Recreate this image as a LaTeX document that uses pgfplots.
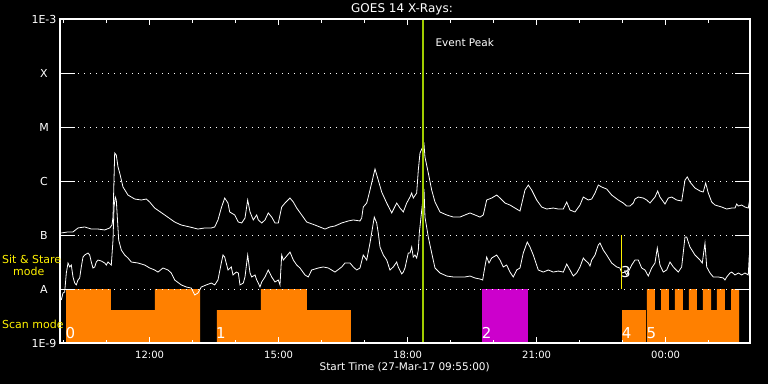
\documentclass[border=0pt]{standalone}
\usepackage{pgfplots}
\pgfplotsset{compat=1.18}
\usepackage{fontspec}
\setmainfont{DejaVu Sans}
\definecolor{scanorange}{RGB}{255,128,0}
\definecolor{stmag}{RGB}{204,0,204}
\definecolor{evgreen}{RGB}{160,204,0}
\begin{document}
\begin{tikzpicture}
\fill[black] (0,0) rectangle (768pt,384pt);
\begin{axis}[
  at={(60pt,41pt)}, anchor=south west,
  scale only axis, width=690pt, height=324pt,
  xmin=0, xmax=16.047, ymode=log, ymin=1e-9, ymax=1e-3,
  axis on top,
  axis line style={white, line width=1.2pt},
  tick style={white, line width=1pt},
  major tick length=6pt, minor tick length=3.5pt,
  xtick={2.0833,5.0833,8.0833,11.0833,14.0833},
  xticklabels={12:00,15:00,18:00,21:00,00:00},
  minor xtick={0.0833,1.0833,3.0833,4.0833,6.0833,7.0833,9.0833,10.0833,12.0833,13.0833,15.0833},
  ytick={1e-9,1e-8,1e-7,1e-6,1e-5,1e-4,1e-3},
  yticklabels={1E-9,A,B,C,M,X,1E-3},
  yminorticks=false,
  ytick style={/pgfplots/major tick length=15pt},
  ymajorgrids,
  major grid style={white, line width=0.9pt, dash pattern=on 0.9pt off 5.1pt},
  tick label style={white, font=\fontsize{10}{12}\selectfont},
  x tick label style={anchor=center, yshift=-12pt},
  y tick label style={anchor=center, xshift=-16pt, font=\fontsize{11}{12}\selectfont},
]
% scan / sit-and-stare mode bars
\addplot[fill=scanorange, draw=none] coordinates {(0.140,1e-9) (0.140,1e-8) (1.186,1e-8) (1.186,4.08e-9) (2.209,4.08e-9) (2.209,1e-8) (3.256,1e-8) (3.256,1e-9)};
\addplot[fill=scanorange, draw=none] coordinates {(3.651,1e-9) (3.651,4.08e-9) (4.674,4.08e-9) (4.674,1e-8) (5.744,1e-8) (5.744,4.08e-9) (6.767,4.08e-9) (6.767,1e-9)};
\addplot[fill=stmag, draw=none] coordinates {(9.814,1e-9) (9.814,1e-8) (10.884,1e-8) (10.884,1e-9)};
\addplot[fill=scanorange, draw=none] coordinates {(13.070,1e-9) (13.070,4.08e-9) (13.628,4.08e-9) (13.628,1e-9)};
\addplot[fill=scanorange, draw=none] coordinates {(13.651,1e-9) (13.651,1e-8) (13.837,1e-8) (13.837,4.08e-9) (13.977,4.08e-9) (13.977,1e-8) (14.163,1e-8) (14.163,4.08e-9) (14.302,4.08e-9) (14.302,1e-8) (14.488,1e-8) (14.488,4.08e-9) (14.628,4.08e-9) (14.628,1e-8) (14.814,1e-8) (14.814,4.08e-9) (14.953,4.08e-9) (14.953,1e-8) (15.140,1e-8) (15.140,4.08e-9) (15.279,4.08e-9) (15.279,1e-8) (15.465,1e-8) (15.465,4.08e-9) (15.605,4.08e-9) (15.605,1e-8) (15.791,1e-8) (15.791,1e-9)};
% long channel (1-8 A)
\addplot[white, line width=0.8pt, mark=none] coordinates {
(0.030,1.09e-7) (0.186,1.14e-7) (0.302,1.14e-7) (0.419,1.35e-7) (0.574,1.41e-7) (0.728,1.29e-7) (0.884,1.29e-7) (1.040,1.24e-7) (1.156,1.35e-7) (1.209,1.53e-7) (1.233,2.15e-7) (1.272,3.30e-6) (1.309,3.03e-6) (1.349,1.82e-6) (1.388,1.41e-6) (1.465,7.74e-7) (1.581,5.50e-7) (1.737,4.64e-7) (1.891,4.45e-7) (2.007,4.64e-7) (2.086,4.08e-7) (2.202,3.16e-7) (2.435,2.35e-7) (2.667,1.74e-7) (2.821,1.53e-7) (3.016,1.41e-7) (3.209,1.29e-7) (3.365,1.35e-7) (3.519,1.35e-7) (3.598,1.41e-7) (3.674,1.90e-7) (3.751,3.16e-7) (3.830,4.84e-7) (3.907,3.91e-7) (3.947,2.67e-7) (4.063,2.35e-7) (4.147,1.74e-7) (4.226,1.67e-7) (4.302,2.06e-7) (4.365,4.45e-7) (4.419,2.67e-7) (4.495,1.90e-7) (4.574,2.35e-7) (4.612,1.90e-7) (4.691,1.67e-7) (4.767,1.90e-7) (4.844,2.56e-7) (4.923,2.15e-7) (5.000,1.67e-7) (5.077,1.67e-7) (5.156,3.30e-7) (5.233,3.91e-7) (5.349,4.84e-7) (5.426,4.08e-7) (5.505,3.16e-7) (5.621,2.35e-7) (5.737,1.74e-7) (5.930,1.53e-7) (6.163,1.29e-7) (6.279,1.41e-7) (6.395,1.47e-7) (6.551,1.67e-7) (6.705,1.82e-7) (6.821,1.90e-7) (6.977,1.82e-7) (7.016,2.06e-7) (7.053,3.30e-7) (7.133,3.91e-7) (7.209,6.81e-7) (7.326,1.67e-6) (7.402,1.04e-6) (7.481,6.26e-7) (7.598,3.91e-7) (7.714,2.56e-7) (7.830,3.91e-7) (7.907,3.16e-7) (7.984,2.67e-7) (8.063,3.91e-7) (8.140,5.05e-7) (8.179,5.99e-7) (8.216,4.84e-7) (8.295,5.99e-7) (8.333,1.60e-6) (8.372,3.30e-6) (8.465,4.84e-6) (8.488,2.78e-6) (8.565,1.41e-6) (8.644,6.81e-7) (8.721,4.08e-7) (8.837,2.67e-7) (8.993,2.35e-7) (9.147,2.15e-7) (9.302,2.15e-7) (9.419,2.35e-7) (9.535,2.56e-7) (9.651,2.35e-7) (9.767,2.15e-7) (9.844,2.35e-7) (9.923,4.45e-7) (10.040,4.84e-7) (10.156,5.50e-7) (10.233,4.84e-7) (10.349,3.91e-7) (10.465,3.59e-7) (10.581,3.16e-7) (10.698,2.78e-7) (10.814,6.81e-7) (10.891,8.43e-7) (10.970,6.81e-7) (11.086,4.45e-7) (11.202,3.30e-7) (11.319,3.03e-7) (11.472,3.16e-7) (11.588,3.03e-7) (11.705,3.03e-7) (11.784,4.08e-7) (11.860,2.90e-7) (11.977,2.67e-7) (12.093,3.59e-7) (12.170,5.05e-7) (12.286,4.45e-7) (12.365,4.64e-7) (12.442,5.99e-7) (12.519,8.43e-7) (12.598,7.74e-7) (12.714,7.11e-7) (12.830,5.50e-7) (12.984,4.45e-7) (13.100,3.91e-7) (13.179,3.44e-7) (13.256,3.44e-7) (13.333,3.91e-7) (13.372,4.64e-7) (13.449,5.05e-7) (13.565,4.84e-7) (13.644,4.45e-7) (13.721,3.91e-7) (13.798,4.64e-7) (13.837,5.05e-7) (13.900,6.53e-7) (13.953,5.05e-7) (14.070,3.75e-7) (14.147,4.84e-7) (14.226,5.05e-7) (14.342,4.45e-7) (14.458,4.26e-7) (14.535,1.04e-6) (14.588,1.19e-6) (14.651,9.58e-7) (14.767,7.42e-7) (14.884,6.53e-7) (14.960,6.26e-7) (15.016,9.18e-7) (15.077,5.99e-7) (15.156,4.08e-7) (15.233,3.59e-7) (15.388,3.30e-7) (15.505,3.03e-7) (15.621,3.16e-7) (15.698,3.16e-7) (15.737,3.75e-7) (15.774,3.44e-7) (15.853,3.59e-7) (15.930,3.30e-7) (16.007,3.16e-7) (16.047,4.84e-7)
};
% short channel (0.5-4 A)
\addplot[white, line width=0.8pt, mark=none] coordinates {
(0.030,6.26e-9) (0.070,8.43e-9) (0.109,8.80e-9) (0.147,1.98e-8) (0.186,3.03e-8) (0.226,2.56e-8) (0.263,2.78e-8) (0.302,1.67e-8) (0.342,1.29e-8) (0.379,1.19e-8) (0.419,1.47e-8) (0.458,1.60e-8) (0.495,2.56e-8) (0.535,3.91e-8) (0.574,4.26e-8) (0.651,4.64e-8) (0.691,4.26e-8) (0.728,3.16e-8) (0.767,2.45e-8) (0.807,2.56e-8) (0.844,3.16e-8) (0.884,3.44e-8) (0.960,3.30e-8) (1.040,3.03e-8) (1.077,2.78e-8) (1.116,3.16e-8) (1.193,2.78e-8) (1.233,8.08e-8) (1.256,3.30e-7) (1.286,5.05e-7) (1.309,4.45e-7) (1.333,2.15e-7) (1.365,8.08e-8) (1.426,5.27e-8) (1.505,4.26e-8) (1.581,3.75e-8) (1.658,3.16e-8) (1.814,3.03e-8) (1.970,2.78e-8) (2.086,2.45e-8) (2.202,2.25e-8) (2.279,2.06e-8) (2.395,2.45e-8) (2.512,2.25e-8) (2.588,1.98e-8) (2.667,1.47e-8) (2.821,1.19e-8) (2.937,1.09e-8) (3.053,1.04e-8) (3.133,7.74e-9) (3.209,8.43e-9) (3.286,1.09e-8) (3.402,1.19e-8) (3.519,1.29e-8) (3.598,1.19e-8) (3.674,1.47e-8) (3.751,3.03e-8) (3.791,4.26e-8) (3.830,3.91e-8) (3.907,2.25e-8) (3.984,2.56e-8) (4.023,1.82e-8) (4.100,2.06e-8) (4.147,1.98e-8) (4.186,1.19e-8) (4.263,1.29e-8) (4.302,1.67e-8) (4.365,4.26e-8) (4.419,1.98e-8) (4.458,1.67e-8) (4.535,1.82e-8) (4.574,1.47e-8) (4.612,1.29e-8) (4.651,1.09e-8) (4.691,1.35e-8) (4.767,1.67e-8) (4.844,2.25e-8) (4.923,1.67e-8) (5.000,1.35e-8) (5.077,1.47e-8) (5.116,1.19e-8) (5.156,4.26e-8) (5.193,3.44e-8) (5.233,3.75e-8) (5.349,4.84e-8) (5.426,3.44e-8) (5.505,2.78e-8) (5.581,2.45e-8) (5.698,1.82e-8) (5.774,1.67e-8) (5.853,2.25e-8) (6.007,2.45e-8) (6.123,2.56e-8) (6.240,2.45e-8) (6.395,2.06e-8) (6.551,2.56e-8) (6.628,3.03e-8) (6.744,3.03e-8) (6.821,2.56e-8) (6.900,2.25e-8) (6.977,2.45e-8) (7.053,4.26e-8) (7.133,3.44e-8) (7.209,7.11e-8) (7.309,2.15e-7) (7.365,1.67e-7) (7.402,1.09e-7) (7.442,6.00e-8) (7.519,4.26e-8) (7.598,3.44e-8) (7.674,2.25e-8) (7.751,2.56e-8) (7.830,3.16e-8) (7.867,2.56e-8) (7.947,1.90e-8) (7.984,2.06e-8) (8.023,2.45e-8) (8.100,4.64e-8) (8.140,4.64e-8) (8.179,6.00e-8) (8.216,3.91e-8) (8.256,4.26e-8) (8.295,3.75e-8) (8.333,5.27e-8) (8.356,1.09e-7) (8.465,7.11e-7) (8.488,2.15e-7) (8.565,9.18e-8) (8.644,4.64e-8) (8.721,2.45e-8) (8.837,1.98e-8) (8.993,1.74e-8) (9.147,1.67e-8) (9.302,1.67e-8) (9.419,1.67e-8) (9.535,1.74e-8) (9.651,1.60e-8) (9.767,1.53e-8) (9.830,1.47e-8) (9.860,2.06e-8) (9.923,3.91e-8) (9.977,3.03e-8) (10.040,3.75e-8) (10.156,4.26e-8) (10.233,3.44e-8) (10.309,2.56e-8) (10.388,2.78e-8) (10.465,2.06e-8) (10.542,1.67e-8) (10.621,2.25e-8) (10.698,2.45e-8) (10.774,4.64e-8) (10.867,7.42e-8) (10.930,6.00e-8) (11.007,4.26e-8) (11.123,2.25e-8) (11.240,2.06e-8) (11.356,2.25e-8) (11.472,2.06e-8) (11.588,2.15e-8) (11.705,2.06e-8) (11.784,2.90e-8) (11.860,2.25e-8) (11.937,1.74e-8) (12.016,1.98e-8) (12.093,2.56e-8) (12.170,3.75e-8) (12.209,3.44e-8) (12.286,3.03e-8) (12.326,2.67e-8) (12.365,3.44e-8) (12.442,4.26e-8) (12.519,6.53e-8) (12.558,7.11e-8) (12.635,5.27e-8) (12.714,4.26e-8) (12.830,3.03e-8) (12.947,2.56e-8) (13.023,2.45e-8) (13.063,1.98e-8) (13.140,2.06e-8) (13.179,1.82e-8) (13.216,2.06e-8) (13.295,2.78e-8) (13.372,3.44e-8) (13.449,3.44e-8) (13.528,2.45e-8) (13.605,2.25e-8) (13.681,1.74e-8) (13.760,2.45e-8) (13.837,3.03e-8) (13.891,5.74e-8) (13.953,2.78e-8) (14.030,2.06e-8) (14.109,2.25e-8) (14.186,3.16e-8) (14.263,2.56e-8) (14.379,2.06e-8) (14.458,2.56e-8) (14.535,9.18e-8) (14.574,9.18e-8) (14.651,6.00e-8) (14.767,4.26e-8) (14.884,3.44e-8) (14.937,3.03e-8) (15.000,7.11e-8) (15.040,2.56e-8) (15.116,1.98e-8) (15.193,1.67e-8) (15.309,1.67e-8) (15.426,1.60e-8) (15.465,1.47e-8) (15.505,1.67e-8) (15.581,1.98e-8) (15.621,2.06e-8) (15.698,1.82e-8) (15.777,1.98e-8) (15.853,1.82e-8) (15.930,1.98e-8) (16.007,1.82e-8) (16.030,4.26e-8) (16.047,1.98e-8)
};
% event peak and sit-and-stare marker
\addplot[evgreen, line width=2.5pt, mark=none] coordinates {(8.442,1e-9) (8.442,1e-3)};
\addplot[yellow, line width=1pt, mark=none] coordinates {(13.053,1e-8) (13.053,1e-7)};
\end{axis}
% texts (picture coordinates, 1px = 1pt)
\node[white, font=\fontsize{12}{14}\selectfont] at (402pt,374.5pt) {GOES 14 X-Rays:};
\node[white, font=\fontsize{10.5}{12}\selectfont, anchor=west] at (432pt,341.5pt) {Event Peak};
\node[white, font=\fontsize{10.5}{12}\selectfont] at (404.7pt,17pt) {Start Time (27-Mar-17 09:55:00)};
\node[yellow, font=\fontsize{11}{12}\selectfont, anchor=west, inner sep=0pt] at (2pt,125pt) {Sit \& Stare};
\node[yellow, font=\fontsize{11}{12}\selectfont, anchor=west, inner sep=0pt] at (13pt,113pt) {mode};
\node[yellow, font=\fontsize{11}{12}\selectfont, anchor=west, inner sep=0pt] at (2pt,60pt) {Scan mode};
\begin{scope}[every node/.style={white, font=\fontsize{15}{16}\selectfont, inner sep=0pt}]
\node at (70.5pt,51pt) {0};
\node at (221pt,51pt) {1};
\node at (486.7pt,51pt) {2};
\node at (626pt,112.3pt) {3};
\node at (626.7pt,51pt) {4};
\node at (651.5pt,51pt) {5};
\end{scope}
\pgfresetboundingbox
\useasboundingbox (0,0) rectangle (768pt,384pt);
\end{tikzpicture}
\end{document}
